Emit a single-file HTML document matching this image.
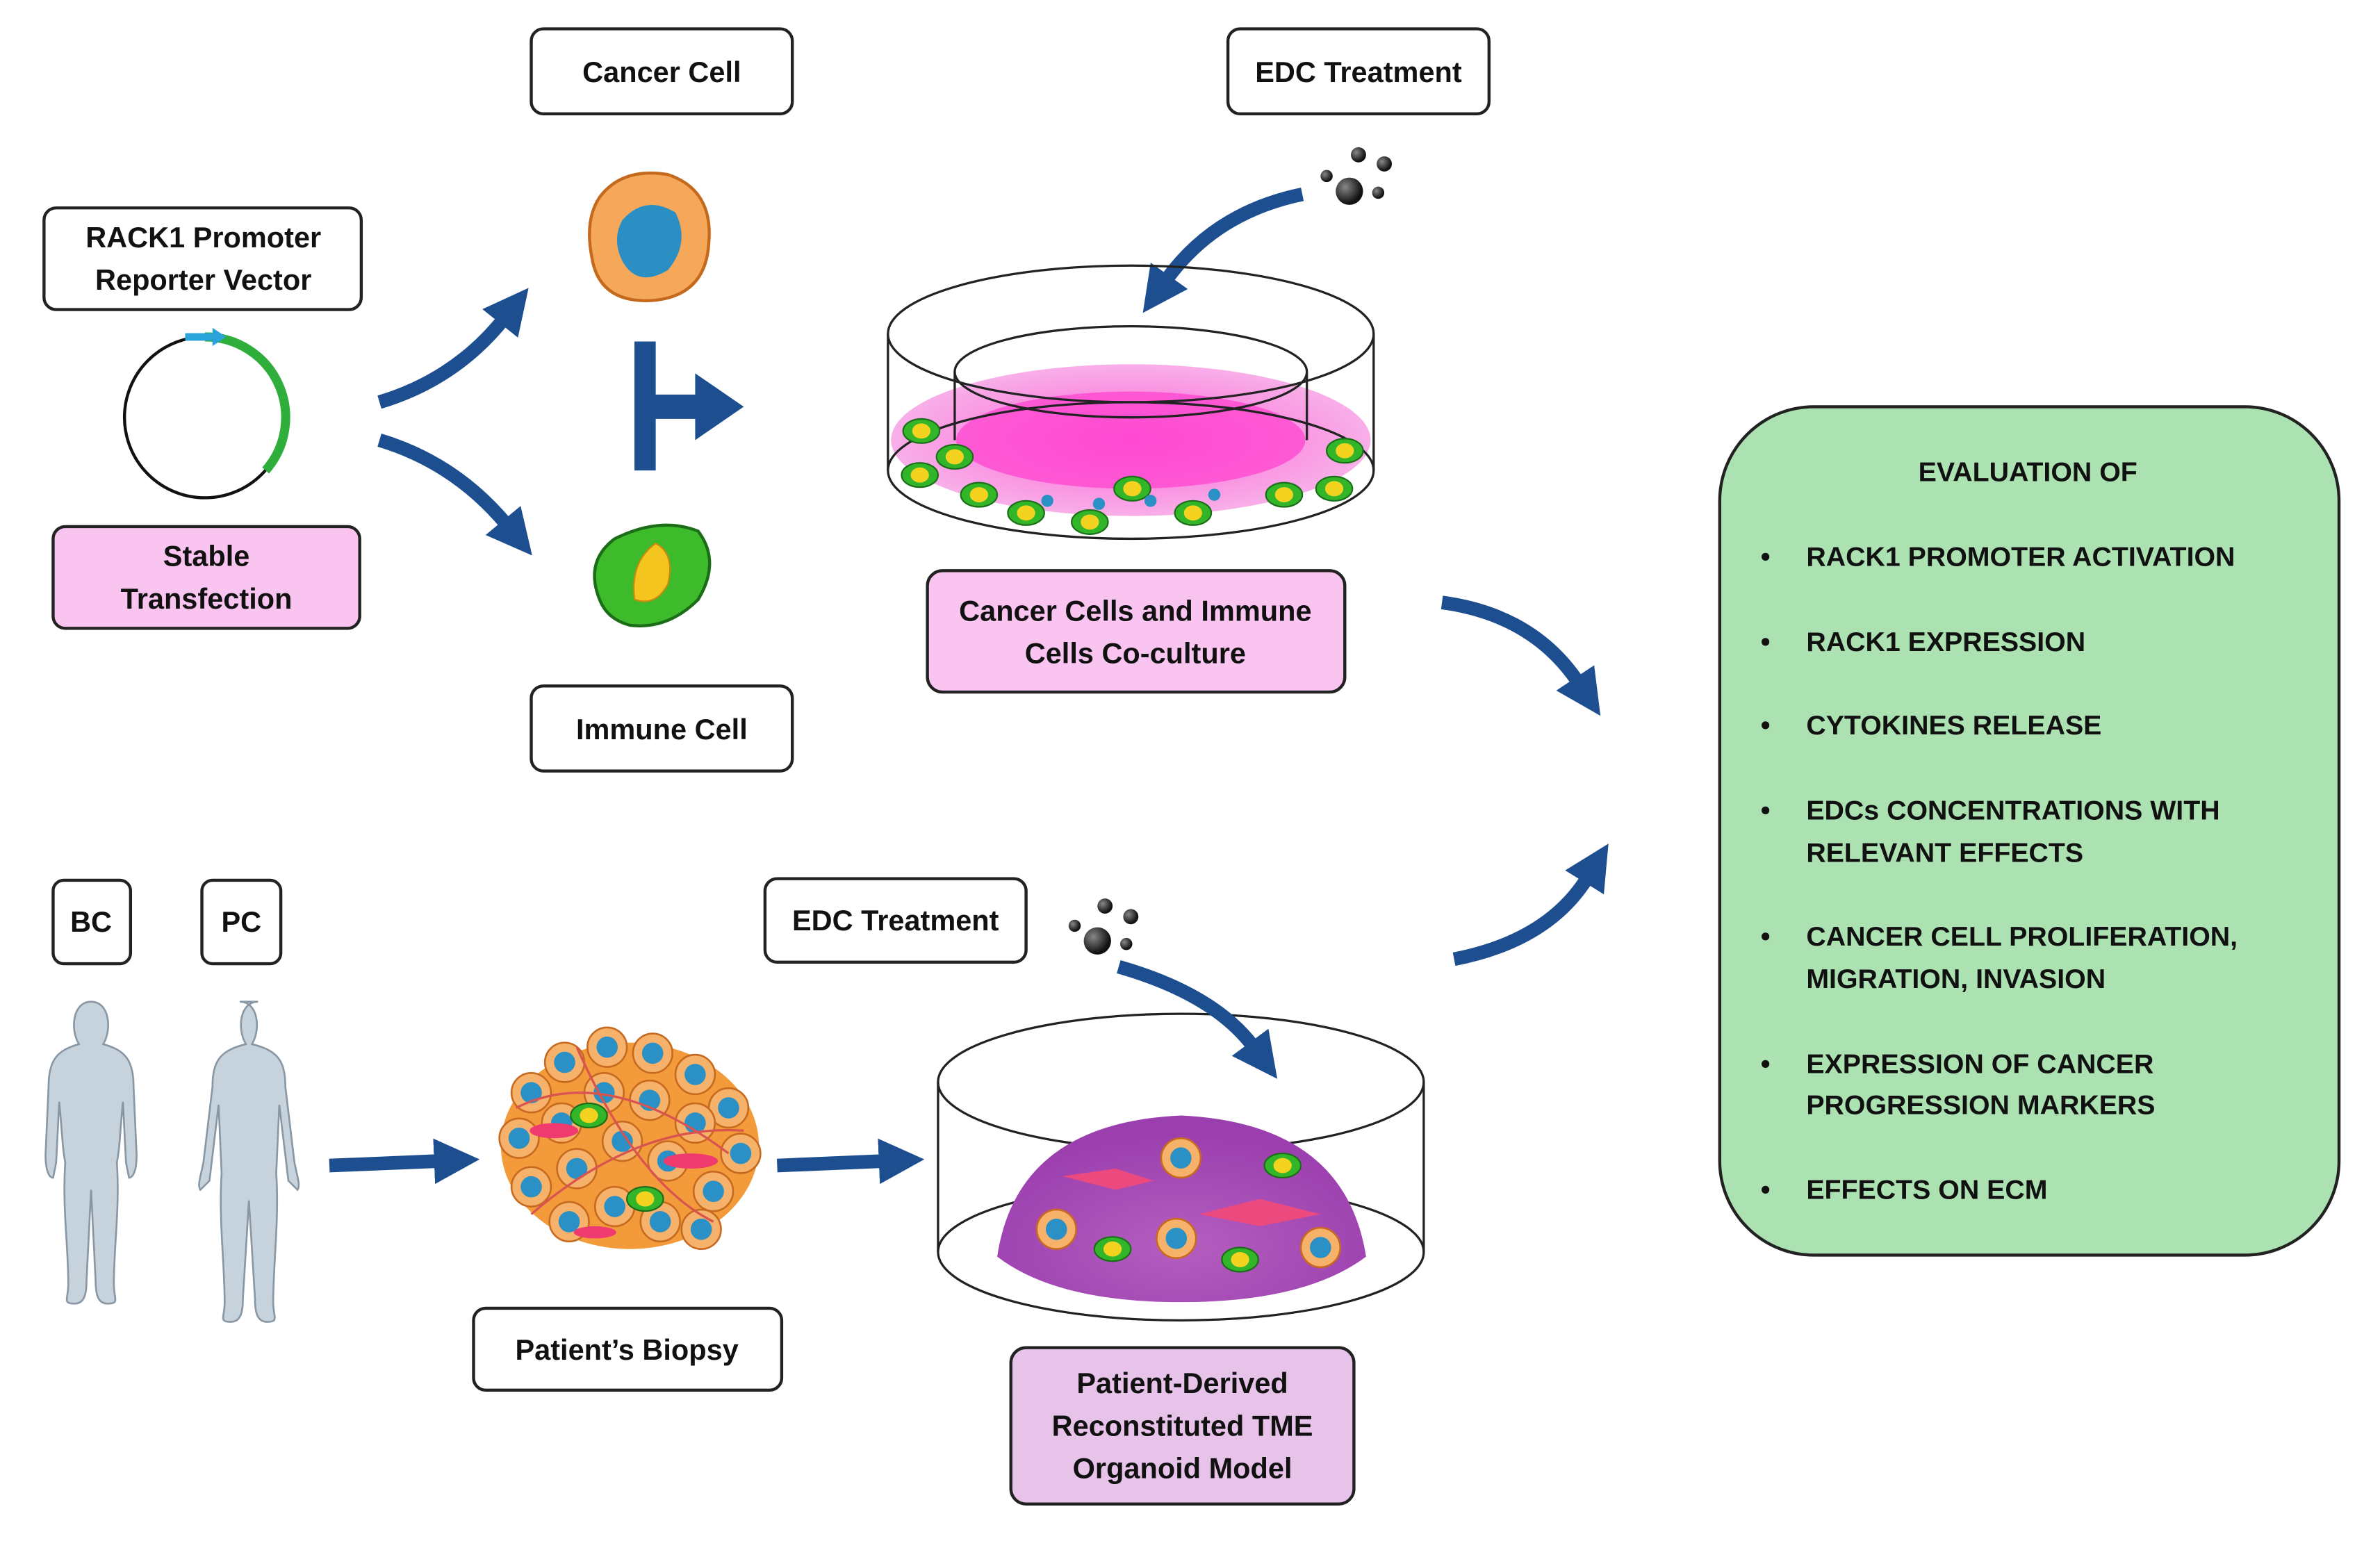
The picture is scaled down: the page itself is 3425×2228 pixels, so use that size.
<!DOCTYPE html>
<html><head><meta charset="utf-8"><style>
html,body{margin:0;padding:0;background:#fff;}
svg{display:block;}
text{font-family:"Liberation Sans",sans-serif;font-weight:bold;fill:#111;}
</style></head><body>
<svg width="3425" height="2228" viewBox="0 0 1568 1020" preserveAspectRatio="none" xmlns="http://www.w3.org/2000/svg">
<defs>
<marker id="ah" markerUnits="userSpaceOnUse" markerWidth="34" markerHeight="34" refX="4" refY="17" orient="auto">
<path d="M0,2 L30,17 L0,32 Z" fill="#1d4e8f"/>
</marker>
<radialGradient id="pk" cx="50%" cy="50%" r="50%"><stop offset="0" stop-color="#ff4fd2"/><stop offset="1" stop-color="#f7a6e6"/></radialGradient>
<radialGradient id="pu" cx="50%" cy="70%" r="60%"><stop offset="0" stop-color="#b55ec0"/><stop offset="1" stop-color="#9b3fae"/></radialGradient>
<radialGradient id="ball" cx="35%" cy="35%" r="60%"><stop offset="0" stop-color="#888"/><stop offset="1" stop-color="#111"/></radialGradient>
<g id="gcell"><ellipse rx="12" ry="8" fill="#33b52a" stroke="#1a6e17" stroke-width="1"/><ellipse rx="6" ry="5" fill="#f3d220"/></g>
<g id="ocell"><circle r="13" fill="#f6b26b" stroke="#c76a1f" stroke-width="1.2"/><circle r="7" fill="#2a90c6"/></g>
</defs>

<g stroke="#222" stroke-width="2" fill="#fff">
<rect x="350" y="19" width="172" height="56" rx="8"/>
<rect x="809" y="19" width="172" height="56" rx="8"/>
<rect x="29" y="137" width="209" height="67" rx="8"/>
<rect x="35" y="347" width="202" height="67" rx="8" fill="#f9c4ef"/>
<rect x="350" y="452" width="172" height="56" rx="8"/>
<rect x="611" y="376" width="275" height="80" rx="10" fill="#f9c4ef"/>
<rect x="35" y="580" width="51" height="55" rx="7"/>
<rect x="133" y="580" width="52" height="55" rx="7"/>
<rect x="504" y="579" width="172" height="55" rx="8"/>
<rect x="312" y="862" width="203" height="54" rx="8"/>
<rect x="666" y="888" width="226" height="103" rx="10" fill="#e7c3ea"/>
<rect x="1133" y="268" width="408" height="559" rx="62" fill="#ace1b2"/>
</g>

<g font-size="19" text-anchor="middle">
<text x="436" y="54">Cancer Cell</text>
<text x="895" y="54">EDC Treatment</text>
<text x="134" y="163">RACK1 Promoter</text>
<text x="134" y="191">Reporter Vector</text>
<text x="136" y="373">Stable</text>
<text x="136" y="401">Transfection</text>
<text x="436" y="487">Immune Cell</text>
<text x="748" y="409">Cancer Cells and Immune</text>
<text x="748" y="437">Cells Co-culture</text>
<text x="60" y="614">BC</text>
<text x="159" y="614">PC</text>
<text x="590" y="613">EDC Treatment</text>
<text x="413" y="896">Patient’s Biopsy</text>
<text x="779" y="918">Patient-Derived</text>
<text x="779" y="946">Reconstituted TME</text>
<text x="779" y="974">Organoid Model</text>
</g>
<g font-size="18">
<text x="1336" y="317" text-anchor="middle">EVALUATION OF</text>
<text x="1160" y="373">•</text><text x="1190" y="373">RACK1 PROMOTER ACTIVATION</text>
<text x="1160" y="429">•</text><text x="1190" y="429">RACK1 EXPRESSION</text>
<text x="1160" y="484">•</text><text x="1190" y="484">CYTOKINES RELEASE</text>
<text x="1160" y="540">•</text><text x="1190" y="540">EDCs CONCENTRATIONS WITH</text>
<text x="1190" y="568">RELEVANT EFFECTS</text>
<text x="1160" y="623">•</text><text x="1190" y="623">CANCER CELL PROLIFERATION,</text>
<text x="1190" y="651">MIGRATION, INVASION</text>
<text x="1160" y="707">•</text><text x="1190" y="707">EXPRESSION OF CANCER</text>
<text x="1190" y="734">PROGRESSION MARKERS</text>
<text x="1160" y="790">•</text><text x="1190" y="790">EFFECTS ON ECM</text>
</g>

<circle cx="135" cy="275" r="53" fill="none" stroke="#111" stroke-width="2"/>
<path d="M135,222 A53,53 0 0 1 175,310" fill="none" stroke="#2fae3c" stroke-width="6"/>
<path d="M122,222 L140,222" stroke="#2aa3d8" stroke-width="5"/>
<path d="M140,216 L149,222 L140,228 Z" fill="#2aa3d8"/>

<g fill="none" stroke="#1d4e8f" stroke-width="9" marker-end="url(#ah)">
<path d="M250,265 Q300,250 332,210"/>
<path d="M250,290 Q300,305 334,346"/>
<path d="M858,128 Q800,140 768,185"/>
<path d="M950,397 Q1010,405 1040,450"/>
<path d="M958,632 Q1020,620 1046,578"/>
<path d="M217,768 L290,765"/>
<path d="M512,768 L583,765"/>
</g>
<path d="M418,225 L432,225 L432,260 L458,260 L458,246 L490,268 L458,290 L458,276 L432,276 L432,310 L418,310 Z" fill="#1d4e8f"/>

<path d="M395,130 Q410,110 440,115 Q470,125 467,160 Q465,195 430,198 Q395,200 390,170 Q385,145 395,130 Z" fill="#f6a85a" stroke="#c56a1c" stroke-width="2"/>
<path d="M410,145 Q425,128 445,140 Q455,160 440,178 Q420,190 410,172 Q403,158 410,145 Z" fill="#2c8fc4"/>
<path d="M395,395 Q385,370 405,355 Q435,340 460,350 Q475,370 460,395 Q440,415 415,412 Q400,408 395,395 Z" fill="#3dbb2a" stroke="#1b6e17" stroke-width="2"/>
<path d="M418,395 Q415,370 432,358 Q445,365 440,385 Q432,400 418,395 Z" fill="#f4c51e" stroke="#c78a0e"/>

<g fill="url(#ball)">
<circle cx="889" cy="126" r="9"/><circle cx="895" cy="102" r="5"/><circle cx="912" cy="108" r="5"/><circle cx="874" cy="116" r="4"/><circle cx="908" cy="127" r="4"/>
<circle cx="723" cy="620" r="9"/><circle cx="728" cy="597" r="5"/><circle cx="745" cy="604" r="5"/><circle cx="708" cy="610" r="4"/><circle cx="742" cy="622" r="4"/>
</g>

<ellipse cx="745" cy="290" rx="158" ry="50" fill="url(#pk)" opacity="0.9"/>
<ellipse cx="745" cy="290" rx="115" ry="32" fill="#ff3fcf" opacity="0.7"/>
<g fill="none" stroke="#222" stroke-width="1.5">
<ellipse cx="745" cy="220" rx="160" ry="45"/>
<ellipse cx="745" cy="310" rx="160" ry="45"/>
<line x1="585" y1="220" x2="585" y2="310"/><line x1="905" y1="220" x2="905" y2="310"/>
<ellipse cx="745" cy="245" rx="116" ry="30"/>
<line x1="629" y1="245" x2="629" y2="290"/><line x1="861" y1="245" x2="861" y2="290"/>
</g>
<use href="#gcell" x="607" y="284"/><use href="#gcell" x="629" y="301"/><use href="#gcell" x="606" y="313"/>
<use href="#gcell" x="645" y="326"/><use href="#gcell" x="676" y="338"/><use href="#gcell" x="718" y="344"/>
<use href="#gcell" x="746" y="322"/><use href="#gcell" x="786" y="338"/><use href="#gcell" x="846" y="326"/>
<use href="#gcell" x="879" y="322"/><use href="#gcell" x="886" y="297"/>
<circle cx="690" cy="330" r="4" fill="#2a90c6"/><circle cx="724" cy="332" r="4" fill="#2a90c6"/><circle cx="758" cy="330" r="4" fill="#2a90c6"/><circle cx="800" cy="326" r="4" fill="#2a90c6"/>

<g fill="#c7d3dc" stroke="#8897a3" stroke-width="1.2">
<path d="M60,660 c12,0 14,18 8,28 c14,4 20,10 20,28 l2,45 c0,12 -3,15 -5,15 l-2,-10 l-2,-40 c-2,20 -2,30 -4,40 c2,30 -2,55 -2,80 c0,10 4,13 -4,13 c-6,0 -8,-5 -8,-15 l-3,-60 l-3,60 c0,10 -2,15 -8,15 c-8,0 -4,-3 -4,-13 c0,-25 -4,-50 -2,-80 c-2,-10 -2,-20 -4,-40 l-2,40 l-2,10 c-2,0 -5,-3 -5,-15 l2,-45 c0,-18 6,-24 20,-28 c-6,-10 -4,-28 8,-28 Z"/>
<path d="M158,660 c12,0 14,18 8,28 c16,4 22,10 22,28 l6,50 c2,10 4,15 2,18 l-6,-6 l-6,-50 l-2,45 c2,30 -2,60 -2,85 c0,10 4,13 -4,13 c-6,0 -8,-5 -8,-15 l-4,-65 l-4,65 c0,10 -2,15 -8,15 c-8,0 -4,-3 -4,-13 c0,-25 -4,-55 -2,-85 l-2,-45 l-6,50 l-6,6 c-2,-3 0,-8 2,-18 l6,-50 c0,-18 6,-24 22,-28 c-6,-10 -4,-28 8,-28 Z"/>
</g>

<ellipse cx="415" cy="755" rx="85" ry="68" fill="#f39b3a"/>
<g>
<use href="#ocell" x="350" y="720"/><use href="#ocell" x="372" y="700"/><use href="#ocell" x="400" y="690"/><use href="#ocell" x="430" y="694"/><use href="#ocell" x="458" y="708"/>
<use href="#ocell" x="480" y="730"/><use href="#ocell" x="342" y="750"/><use href="#ocell" x="370" y="740"/><use href="#ocell" x="398" y="720"/><use href="#ocell" x="428" y="725"/>
<use href="#ocell" x="458" y="740"/><use href="#ocell" x="488" y="760"/><use href="#ocell" x="350" y="782"/><use href="#ocell" x="380" y="770"/><use href="#ocell" x="410" y="752"/>
<use href="#ocell" x="440" y="765"/><use href="#ocell" x="470" y="785"/><use href="#ocell" x="375" y="805"/><use href="#ocell" x="405" y="795"/><use href="#ocell" x="435" y="805"/><use href="#ocell" x="462" y="810"/>
</g>
<g fill="#ee3a6e"><ellipse cx="365" cy="745" rx="16" ry="5"/><ellipse cx="455" cy="765" rx="18" ry="5"/><ellipse cx="392" cy="812" rx="14" ry="4"/></g>
<g fill="none" stroke="#d9534f" stroke-width="1.5"><path d="M340,730 Q400,700 480,760"/><path d="M350,800 Q420,740 490,745"/><path d="M380,690 Q420,780 470,805"/></g>
<use href="#gcell" x="388" y="735"/><use href="#gcell" x="425" y="790"/>

<g fill="none" stroke="#222" stroke-width="1.5">
<ellipse cx="778" cy="713" rx="160" ry="45" fill="#fff"/>
<line x1="618" y1="713" x2="618" y2="825"/><line x1="938" y1="713" x2="938" y2="825"/>
<ellipse cx="778" cy="825" rx="160" ry="45"/>
</g>
<path d="M657,828 Q670,740 778,735 Q886,740 900,828 Q860,858 778,858 Q696,858 657,828 Z" fill="url(#pu)"/>
<g fill="#ec4a7e"><path d="M700,775 L735,770 L760,778 L735,784 Z"/><path d="M790,800 L830,790 L870,800 L830,808 Z"/></g>
<use href="#ocell" x="778" y="763"/><use href="#ocell" x="696" y="810"/><use href="#ocell" x="775" y="816"/><use href="#ocell" x="870" y="822"/>
<use href="#gcell" x="845" y="768"/><use href="#gcell" x="733" y="823"/><use href="#gcell" x="817" y="830"/>
<path d="M737,637 Q800,655 826,690" fill="none" stroke="#1d4e8f" stroke-width="9" marker-end="url(#ah)"/>
</svg>
</body></html>
